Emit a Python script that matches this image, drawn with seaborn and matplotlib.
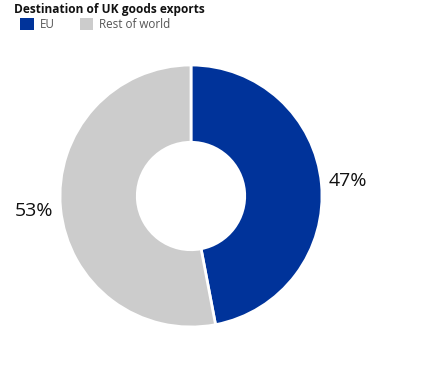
import matplotlib
matplotlib.use("Agg")
import matplotlib.pyplot as plt
from matplotlib.patches import Patch
import seaborn as sns

# datos
destinos = ["EU", "Rest of world"]
porcentajes = [47, 53]
colores = ["#00339A", "#CCCCCC"]

sns.set_theme(style="white")
plt.rcParams['font.family'] = ['Open Sans', 'DejaVu Sans']

W, H = 438, 386
fig = plt.figure(figsize=(W / 100, H / 100), dpi=100)

# donut centrado en (191, 196) px, radio 131 px
cx, cy, r = 191, 196, 131
ax = fig.add_axes([(cx - r) / W, (H - cy - r) / H, 2 * r / W, 2 * r / H])
wedges, _, autotexts = ax.pie(
    porcentajes, colors=colores, startangle=90, counterclock=False,
    radius=1, autopct=lambda p: f"{p:.0f}%", pctdistance=1.2,
    wedgeprops=dict(width=0.59, edgecolor="white", linewidth=2),
    textprops=dict(fontsize=14, color="#111111"))
ax.set_xlim(-1, 1)
ax.set_ylim(-1, 1)
ax.set_aspect("equal")
ax.axis("off")

fig.text(14 / W, 1 - 9 / H, "Destination of UK goods exports", fontsize=8.6,
         fontweight="bold", va="center", ha="left", color="#111111")

handles = [Patch(facecolor=c, edgecolor="none") for c in colores]
fig.legend(handles, destinos, loc="upper left", bbox_to_anchor=(12 / W, 1 - 10 / H),
           ncol=2, frameon=False, fontsize=8.4, handlelength=1.15, handleheight=1.15,
           handletextpad=0.5, columnspacing=2.2, borderpad=0.2, labelcolor="#555555")

fig.savefig("out.png", dpi=100, facecolor="white")
